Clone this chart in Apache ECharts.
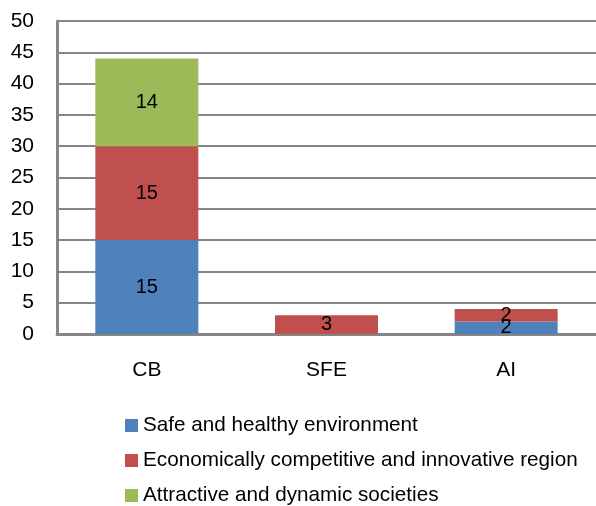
<!DOCTYPE html>
<html>
<head>
<meta charset="utf-8">
<script src="https://cdn.jsdelivr.net/npm/echarts@6/dist/echarts.min.js"></script>
<style>
  html, body { margin: 0; padding: 0; background: #fff; }
  #main { width: 596px; height: 506px; }
</style>
</head>
<body>
<div id="main"></div>
<script>
// categories and values
const categories = ['CB', 'SFE', 'AI']
const seriesNames = [
  'Safe and healthy environment',
  'Economically competitive and innovative region',
  'Attractive and dynamic societies'
]
const safeHealthy = [15, 0, 2]
const econCompetitive = [15, 3, 2]
const attractiveDynamic = [14, 0, 0]
const colors = ['#4F81BD', '#C0504D', '#9BBB59']

const font = 'Liberation Sans, Arial, sans-serif'
const myChart = echarts.init(document.getElementById('main'))

const makeSeries = (name, data, color) => ({
  name: name,
  type: 'bar',
  stack: 'total',
  barWidth: 103,
  itemStyle: { color: color },
  label: {
    show: true,
    position: 'inside',
    color: '#000',
    fontSize: 20,
    fontFamily: font,
    formatter: p => (p.value ? p.value : '')
  },
  data: data
})

const option = {
  animation: false,
  textStyle: { fontFamily: font },
  grid: { left: 57, top: 21, width: 544, height: 313 },
  legend: {
    orient: 'vertical',
    left: 120,
    top: 410,
    height: 100,
    itemWidth: 13,
    itemHeight: 13,
    itemGap: 14,
    icon: 'rect',
    textStyle: { fontSize: 20.7, color: '#000', fontFamily: font },
    data: seriesNames
  },
  xAxis: {
    type: 'category',
    data: categories,
    axisLine: { lineStyle: { color: '#868686', width: 3 } },
    axisTick: { show: false },
    axisLabel: { color: '#000', fontSize: 21, margin: 26 }
  },
  yAxis: {
    type: 'value',
    min: 0,
    max: 50,
    interval: 5,
    axisLine: { show: true, lineStyle: { color: '#868686', width: 3 } },
    axisTick: { show: false },
    splitLine: { lineStyle: { color: '#868686', width: 2 } },
    axisLabel: { color: '#000', fontSize: 21, margin: 23 }
  },
  series: [
    makeSeries(seriesNames[0], safeHealthy, colors[0]),
    makeSeries(seriesNames[1], econCompetitive, colors[1]),
    makeSeries(seriesNames[2], attractiveDynamic, colors[2])
  ]
}
myChart.setOption(option)
</script>
</body>
</html>
